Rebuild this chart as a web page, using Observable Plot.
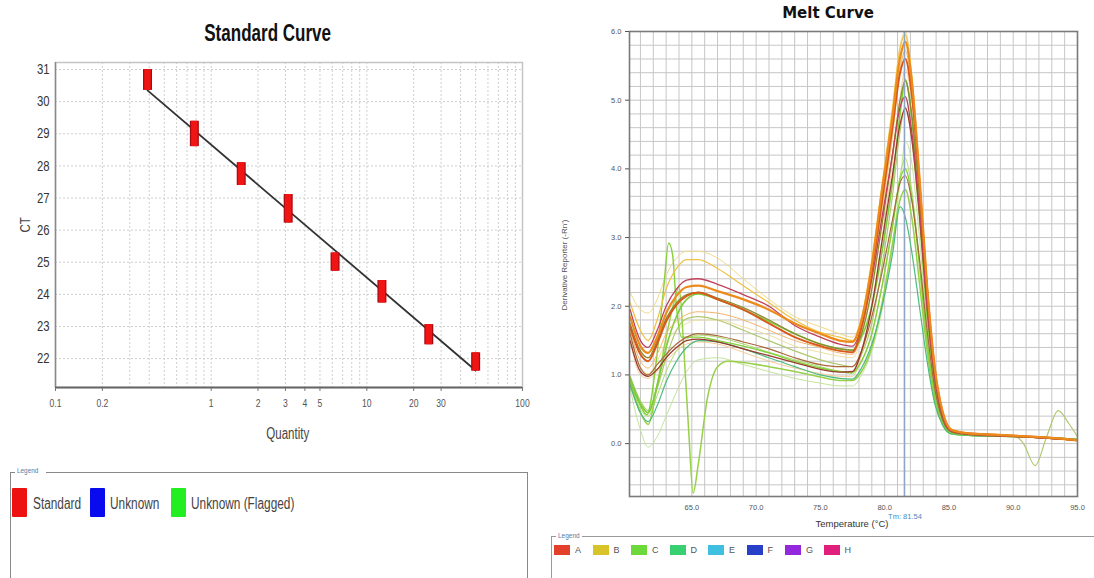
<!DOCTYPE html>
<html><head><meta charset="utf-8">
<script src="https://cdn.jsdelivr.net/npm/d3@7"></script>
<script src="https://cdn.jsdelivr.net/npm/@observablehq/plot@0.6"></script>
<style>
body{margin:0;width:1094px;height:578px;background:#fff;position:relative;overflow:hidden;font-family:"Liberation Sans",Arial,sans-serif}
.abs{position:absolute}
.sq{display:inline-block;transform:scaleX(0.76);transform-origin:center}
.sql{display:inline-block;transform:scaleX(0.76);transform-origin:left center;white-space:nowrap}
</style></head><body>
<div id="std" class="abs" style="left:0;top:50px"></div>
<div id="melt" class="abs" style="left:540px;top:0"></div>

<div class="abs" style="left:118px;top:19px;width:300px;text-align:center;font-weight:bold;font-size:23px;line-height:28px;color:#111"><span class="sq" style="transform:scaleX(0.74)">Standard Curve</span></div>
<div class="abs" style="left:5px;top:215px;width:40px;height:20px;line-height:20px;text-align:center;font-size:15px;color:#444;transform:rotate(-90deg)"><span class="sq">CT</span></div>
<div class="abs" style="left:238px;top:424px;width:100px;text-align:center;font-size:16px;line-height:20px;color:#444"><span class="sq" style="transform:scaleX(0.72)">Quantity</span></div>

<div class="abs" style="left:728px;top:4px;width:200px;text-align:center;font-family:'DejaVu Sans',sans-serif;font-weight:bold;font-size:15px;line-height:18px;color:#111">Melt Curve</div>
<div class="abs" style="left:465px;top:258px;width:200px;height:14px;line-height:14px;text-align:center;font-size:8px;color:#555;transform:rotate(-90deg)">Derivative Reporter (-Rn')</div>
<div class="abs" style="left:752px;top:518px;width:200px;text-align:center;font-size:9.5px;line-height:12px;color:#333">Temperature (°C)</div>
<div class="abs" style="left:855px;top:512px;width:100px;text-align:center;font-size:7.5px;line-height:10px;color:#4a8ac4">Tm: 81.54</div>

<!-- left legend -->
<div class="abs" style="left:10px;top:472px;width:516px;height:130px;border:1.5px solid #888;border-bottom:none"></div>
<div class="abs" style="left:15px;top:466px;font-size:8px;line-height:10px;color:#5a7aa0;background:#fff;padding:0 2px"><span class="sql" style="transform:scaleX(0.8)">Legend</span></div>
<div id="legL"></div>
<!-- right legend -->
<div class="abs" style="left:551px;top:536px;width:600px;height:60px;border-top:1px solid #9a9a9a;border-left:1px solid #9a9a9a"></div>
<div class="abs" style="left:556px;top:531px;font-size:6.5px;line-height:9px;color:#5a7aa0;background:#fff;padding:0 2px">Legend</div>
<div id="legR"></div>

<script>
// ---------- Standard curve data ----------
const stdQuantity = [0.39, 0.78, 1.56, 3.125, 6.25, 12.5, 25, 50];
const stdCtLow    = [30.35, 28.6, 27.39, 26.22, 24.72, 23.73, 22.43, 21.61];
const stdCtHigh   = [31.0, 29.39, 28.1, 27.11, 25.29, 24.43, 23.06, 22.18];
const fitQuantity = [0.39, 50];
const fitCt       = [30.35, 21.63];
const qTickValues = [0.1, 0.2, 1, 2, 3, 4, 5, 10, 20, 30, 100];
const qGridValues = [0.1,0.2,0.3,0.4,0.5,0.6,0.7,0.8,0.9,1,2,3,4,5,6,7,8,9,10,20,30,40,50,60,70,80,90,100];
const ctTickValues = [22, 23, 24, 25, 26, 27, 28, 29, 30, 31];
const stdLegend = ["Standard", "Unknown", "Unknown (Flagged)"];
const stdLegendColors = ["#ee1111", "#0a0aee", "#22ee22"];

// ---------- Melt curve data ----------
const meltTemps = [60.2, 61.0, 61.6, 62.3, 63.0, 63.8, 64.6, 65.5, 67, 69, 71, 73, 75, 76.5, 77.5, 78.2, 79, 79.8, 80.6, 81.2, 81.6, 82.1, 82.7, 83.3, 83.9, 84.5, 85.2, 86.5, 88.5, 90.5, 92.5, 95];
const curveC1  = [2.2, 1.95, 1.9, 2.1, 2.45, 2.7, 2.8, 2.8, 2.7, 2.4, 2.1, 1.85, 1.7, 1.6, 1.55, 1.85, 2.7, 3.8, 4.9, 5.8, 6.0, 5.4, 3.95, 2.3, 1.05, 0.42, 0.18, 0.14, 0.12, 0.1, 0.08, 0.04];
const curveC2  = [2.05, 1.65, 1.5, 1.8, 2.25, 2.55, 2.68, 2.68, 2.55, 2.3, 2.05, 1.8, 1.62, 1.55, 1.5, 1.8, 2.65, 3.75, 4.85, 5.75, 5.95, 5.35, 3.9, 2.3, 1.05, 0.43, 0.18, 0.14, 0.12, 0.1, 0.08, 0.04];
const curveC3  = [1.95, 1.5, 1.4, 1.65, 2.0, 2.25, 2.38, 2.4, 2.32, 2.17, 2.0, 1.72, 1.55, 1.45, 1.42, 1.7, 2.4, 3.3, 4.2, 4.9, 5.05, 4.55, 3.4, 2.0, 0.95, 0.4, 0.18, 0.14, 0.12, 0.1, 0.08, 0.05];
const curveC4  = [1.85, 1.42, 1.32, 1.55, 1.9, 2.15, 2.28, 2.3, 2.22, 2.1, 1.95, 1.75, 1.6, 1.5, 1.48, 1.8, 2.6, 3.7, 4.75, 5.62, 5.85, 5.3, 3.9, 2.3, 1.1, 0.47, 0.2, 0.15, 0.13, 0.11, 0.09, 0.05];
const curveC5  = [1.75, 1.35, 1.25, 1.5, 1.82, 2.05, 2.17, 2.2, 2.12, 1.98, 1.8, 1.6, 1.45, 1.38, 1.36, 1.6, 2.25, 3.2, 4.2, 5.0, 5.28, 4.8, 3.6, 2.1, 0.95, 0.4, 0.18, 0.14, 0.12, 0.1, 0.08, 0.05];
const curveC6  = [1.7, 1.3, 1.2, 1.45, 1.78, 2.02, 2.15, 2.2, 2.1, 1.95, 1.75, 1.55, 1.42, 1.35, 1.33, 1.7, 2.5, 3.55, 4.6, 5.4, 5.6, 5.1, 3.8, 2.25, 1.08, 0.46, 0.2, 0.15, 0.13, 0.11, 0.09, 0.05];
const curveC7  = [1.65, 1.2, 1.1, 1.3, 1.6, 1.78, 1.88, 1.92, 1.9, 1.8, 1.65, 1.5, 1.4, 1.32, 1.3, 1.62, 2.4, 3.45, 4.5, 5.45, 5.72, 5.2, 3.85, 2.28, 1.05, 0.44, 0.19, 0.14, 0.12, 0.1, 0.08, 0.04];
const curveC8  = [1.55, 1.12, 1.02, 1.2, 1.48, 1.65, 1.75, 1.8, 1.8, 1.7, 1.58, 1.42, 1.33, 1.27, 1.25, 1.55, 2.3, 3.35, 4.45, 5.5, 5.88, 5.35, 3.95, 2.3, 1.05, 0.42, 0.18, 0.14, 0.12, 0.1, 0.08, 0.04];
const curveC9  = [1.6, 1.1, 1.0, 1.15, 1.3, 1.45, 1.55, 1.6, 1.57, 1.48, 1.38, 1.25, 1.15, 1.12, 1.12, 1.35, 1.85, 2.5, 3.25, 3.8, 3.9, 3.55, 2.7, 1.65, 0.8, 0.35, 0.17, 0.13, 0.11, 0.1, 0.08, 0.05];
const curveC10 = [1.5, 1.05, 0.98, 1.08, 1.25, 1.4, 1.5, 1.52, 1.48, 1.38, 1.28, 1.18, 1.08, 1.04, 1.05, 1.35, 2.0, 2.95, 3.9, 4.65, 4.88, 4.45, 3.35, 2.0, 0.95, 0.4, 0.18, 0.14, 0.12, 0.1, 0.08, 0.05];
const curveC11 = [1.5, 1.0, 0.95, 1.05, 1.2, 1.35, 1.45, 1.48, 1.45, 1.33, 1.2, 1.1, 1.02, 0.98, 0.98, 1.3, 2.0, 3.0, 4.1, 5.05, 5.45, 5.0, 3.75, 2.2, 1.02, 0.43, 0.18, 0.14, 0.12, 0.1, 0.08, 0.04];
const curveL1  = [0.95, 0.58, 0.45, 0.85, 1.4, 1.85, 2.1, 2.18, 2.1, 1.95, 1.78, 1.6, 1.45, 1.38, 1.36, 1.55, 2.0, 2.8, 3.8, 4.8, 5.3, 4.75, 3.4, 1.9, 0.85, 0.35, 0.16, 0.13, 0.12, 0.11, 0.09, 0.06];
const curveL2  = [0.9, 0.5, 0.4, 0.7, 1.05, 1.35, 1.52, 1.58, 1.55, 1.45, 1.33, 1.22, 1.12, 1.05, 1.02, 1.2, 1.6, 2.3, 3.15, 3.9, 4.15, 3.7, 2.65, 1.5, 0.7, 0.3, 0.15, 0.12, 0.11, 0.1, 0.09, 0.06];
const curveL3  = [0.85, 0.45, 0.32, 0.55, 0.9, 1.2, 1.4, 1.5, 1.48, 1.38, 1.25, 1.12, 1.0, 0.95, 0.94, 1.1, 1.45, 2.0, 2.75, 3.45, 3.3, 2.8, 2.0, 1.2, 0.58, 0.27, 0.14, 0.12, 0.11, 0.1, 0.09, 0.06];
const curveL4  = [0.8, 0.2, -0.05, 0.1, 0.4, 0.75, 1.05, 1.22, 1.25, 1.15, 1.05, 0.95, 0.88, 0.84, 0.84, 1.0, 1.35, 1.95, 2.85, 3.8, 4.4, 4.1, 3.0, 1.7, 0.78, 0.32, 0.15, 0.12, 0.11, 0.1, 0.09, 0.06];
// flagged wells with their own sampled temperatures
const flagF1Temps = [60.2, 61.0, 61.5, 62.2, 62.8, 63.2, 63.5, 63.8, 64.2, 65.5, 67, 69, 71, 73, 75, 76.5, 77.5, 78.2, 79, 79.8, 80.6, 81.2, 81.6, 82.1, 82.7, 83.3, 83.9, 84.5, 85.2, 86.5, 88.5, 90.5, 92.5, 95];
const flagF1     = [0.9, 0.55, 0.42, 1.15, 2.25, 2.92, 2.75, 2.0, 1.55, 1.55, 1.5, 1.42, 1.32, 1.2, 1.1, 1.05, 1.04, 1.2, 1.6, 2.3, 3.15, 3.85, 4.0, 3.6, 2.6, 1.5, 0.7, 0.3, 0.15, 0.12, 0.11, 0.1, 0.09, 0.06];
const flagF2Temps = [60.2, 61.0, 61.6, 62.3, 63.0, 63.6, 64.0, 64.4, 64.75, 65.1, 65.5, 66.2, 67.0, 67.8, 69, 71, 73, 75, 76.5, 77.5, 78.2, 79, 79.8, 80.6, 81.2, 81.6, 82.1, 82.7, 83.3, 83.9, 84.5, 85.2, 86.5, 88.5, 90.5, 92.5, 95];
const flagF2     = [0.88, 0.45, 0.28, 0.85, 1.55, 2.05, 2.28, 1.3, 0.2, -0.72, -0.3, 0.65, 1.12, 1.2, 1.18, 1.12, 1.05, 0.97, 0.92, 0.92, 1.05, 1.4, 2.05, 2.9, 3.55, 3.7, 3.3, 2.35, 1.35, 0.62, 0.28, 0.14, 0.12, 0.11, 0.1, 0.09, 0.06];
const flagF3Temps = [60.2, 61.0, 61.6, 62.3, 63.0, 63.8, 64.6, 65.5, 67, 69, 71, 73, 75, 76.5, 77.5, 78.2, 79, 79.8, 80.6, 81.2, 81.6, 82.1, 82.7, 83.3, 83.9, 84.5, 85.2, 86.5, 88.5, 90.0, 90.8, 91.7, 92.6, 93.5, 94.3, 95];
const flagF3     = [0.98, 0.62, 0.48, 0.8, 1.25, 1.65, 1.82, 1.85, 1.8, 1.65, 1.5, 1.35, 1.22, 1.15, 1.12, 1.3, 1.75, 2.6, 3.6, 4.55, 4.9, 4.45, 3.25, 1.85, 0.85, 0.35, 0.16, 0.13, 0.12, 0.12, 0.0, -0.32, 0.1, 0.48, 0.3, 0.1];
const tm = 81.54;
const tempTickValues = [65, 70, 75, 80, 85, 90, 95];
const rnTickValues = [0, 1, 2, 3, 4, 5, 6];
const wellLetters = ["A", "B", "C", "D", "E", "F", "G", "H"];
const wellColors = ["#e2402a", "#d8c428", "#6cd83a", "#38d070", "#40c0e0", "#2840c8", "#9428dc", "#e0207c"];

// ---------- styles (not data) ----------
const curveStyle = {
  C8:["#f0e0a0",1], C11:["#f6cc98",1], C1:["#f2da88",1], L4:["#c4e49a",1], L2:["#aadc6c",1],
  F3:["#b0c870",1.2], F2:["#98d048",1.5], F1:["#86d03c",1.4], L3:["#4cba80",1.2], L1:["#7ccc3c",1.6],
  C7:["#f5b46a",1], C2:["#f0c040",1.2], C9:["#a8683a",1.2], C10:["#9a3a2c",1.3], C5:["#8a8a30",1.3],
  C3:["#c0405a",1.3], C6:["#d8581c",2], C4:["#ec8a1c",2.2]
};
const curves = [
  ["C8", meltTemps, curveC8], ["C11", meltTemps, curveC11], ["C1", meltTemps, curveC1],
  ["L4", meltTemps, curveL4], ["L2", meltTemps, curveL2], ["F3", flagF3Temps, flagF3],
  ["F2", flagF2Temps, flagF2], ["F1", flagF1Temps, flagF1], ["L3", meltTemps, curveL3],
  ["L1", meltTemps, curveL1], ["C7", meltTemps, curveC7], ["C2", meltTemps, curveC2],
  ["C9", meltTemps, curveC9], ["C10", meltTemps, curveC10], ["C5", meltTemps, curveC5],
  ["C3", meltTemps, curveC3], ["C6", meltTemps, curveC6], ["C4", meltTemps, curveC4]
];

// ---------- Standard curve plot ----------
const stdRows = stdQuantity.map((q, i) => ({q, lo: stdCtLow[i], hi: stdCtHigh[i]}));
const fitRows = fitQuantity.map((q, i) => ({q, ct: fitCt[i]}));
const std = Plot.plot({
  width: 540, height: 400,
  marginLeft: 55, marginRight: 18, marginTop: 12, marginBottom: 63,
  style: {fontFamily: "'Liberation Sans',Arial,sans-serif", color: "#444", background: "transparent"},
  x: {type: "log", domain: [0.1, 100]},
  y: {domain: [21.1, 31.22]},
  marks: [
    Plot.gridX(qGridValues, {stroke: "#cfcfcf", strokeOpacity: 1, strokeDasharray: "2,2"}),
    Plot.gridY(ctTickValues, {stroke: "#cfcfcf", strokeOpacity: 1, strokeDasharray: "2,2"}),
    Plot.frame({stroke: "#c4c4c4", strokeWidth: 1.5}),
    Plot.axisX(qTickValues, {tickFormat: () => "", tickSize: 4, label: null, stroke: "#777"}),
    Plot.text(qTickValues, {x: d => d, frameAnchor: "bottom", dy: 19, text: d => String(d), fontSize: 11, fill: "#555"}),
    Plot.axisY(ctTickValues, {fontSize: 14.5, tickSize: 0, tickPadding: 6, label: null, fill: "#333"}),
    Plot.ruleX([0.1], {stroke: "#8a8a8a", strokeWidth: 1.5}),
    Plot.ruleY([21.1], {stroke: "#666", strokeWidth: 2}),
    Plot.line(fitRows, {x: "q", y: "ct", stroke: "#333", strokeWidth: 1.8}),
    Plot.ruleX(stdRows, {x: "q", y1: "lo", y2: "hi", stroke: "#a80c12", strokeWidth: 9}),
    Plot.ruleX(stdRows, {x: "q", y1: "lo", y2: "hi", stroke: "#f01414", strokeWidth: 6.5})
  ]
});
document.getElementById("std").appendChild(std);
// condense the left chart's tick text like the original narrow font
std.querySelectorAll("text").forEach(t => {
  const w = t.getComputedTextLength();
  if (w > 0) { t.setAttribute("textLength", (w * 0.78).toFixed(2)); t.setAttribute("lengthAdjust", "spacingAndGlyphs"); }
});

// ---------- Melt curve plot ----------
const melt = Plot.plot({
  width: 554, height: 540,
  marginLeft: 89, marginRight: 17, marginTop: 31, marginBottom: 44,
  style: {fontFamily: "'Liberation Sans',Arial,sans-serif", color: "#555", background: "transparent"},
  x: {domain: [60.15, 95]},
  y: {domain: [-0.77, 6.0]},
  marks: [
    Plot.gridX(d3.range(61, 95), {stroke: "#c6c6c6", strokeOpacity: 1}),
    Plot.gridY(d3.range(-0.6, 6.0, 0.2), {stroke: "#c6c6c6", strokeOpacity: 1}),
    ...curves.map(([id, t, v]) => Plot.line(t.map((tt, i) => ({t: tt, v: v[i]})), {
      x: "t", y: "v", stroke: curveStyle[id][0], strokeWidth: curveStyle[id][1], curve: "monotone-x", clip: true
    })),
    Plot.ruleX([tm], {stroke: "#8ea6c4", strokeWidth: 1.6}),
    Plot.frame({stroke: "#7a7a7a", strokeWidth: 1.6}),
    Plot.axisX(tempTickValues, {tickFormat: d3.format(".1f"), fontSize: 7.5, tickSize: 0, tickPadding: 8, label: null}),
    Plot.axisY(rnTickValues, {tickFormat: d3.format(".1f"), fontSize: 7.5, tickSize: 4, tickPadding: 4, label: null})
  ]
});
document.getElementById("melt").appendChild(melt);

// ---------- legends ----------
const legL = document.getElementById("legL");
const legLPos = [[12, 33], [90, 110], [171, 191]];
stdLegend.forEach((name, i) => {
  const sw = document.createElement("div");
  sw.className = "abs";
  sw.style.cssText = `left:${legLPos[i][0]}px;top:488px;width:15px;height:29px;background:${stdLegendColors[i]};border-radius:1px`;
  legL.appendChild(sw);
  const tx = document.createElement("div");
  tx.className = "abs";
  tx.style.cssText = `left:${legLPos[i][1]}px;top:494px;font-size:16px;line-height:20px;color:#444`;
  const sp = document.createElement("span");
  sp.className = "sql";
  sp.style.transform = "scaleX(0.74)";
  sp.textContent = name;
  tx.appendChild(sp);
  legL.appendChild(tx);
});
const legR = document.getElementById("legR");
wellLetters.forEach((name, i) => {
  const x = 554 + i * 38.5;
  const sw = document.createElement("div");
  sw.className = "abs";
  sw.style.cssText = `left:${x}px;top:545px;width:16px;height:10px;background:${wellColors[i]}`;
  legR.appendChild(sw);
  const tx = document.createElement("div");
  tx.className = "abs";
  tx.style.cssText = `left:${x + 21}px;top:544px;font-size:9px;line-height:12px;color:#555`;
  tx.textContent = name;
  legR.appendChild(tx);
});
</script>
</body></html>
